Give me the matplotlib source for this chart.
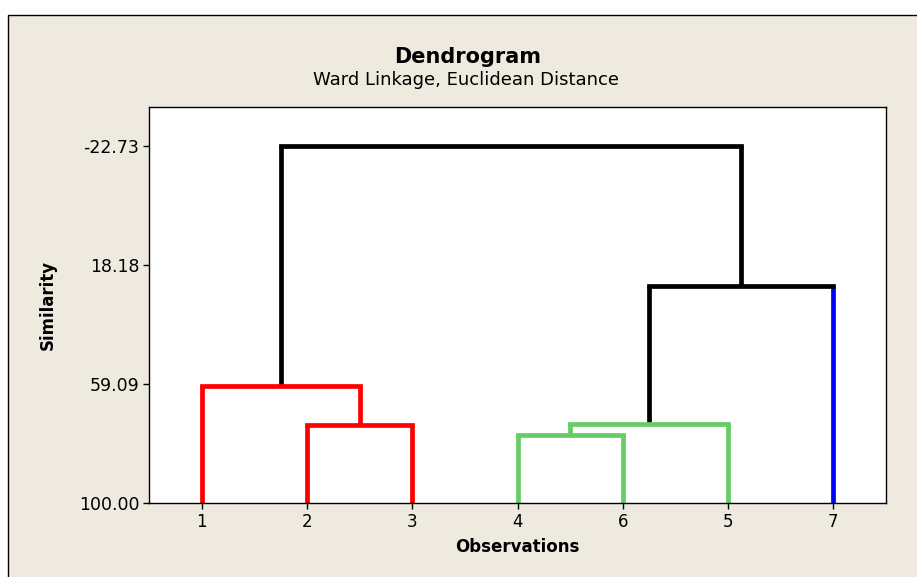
import matplotlib
matplotlib.use("Agg")
import matplotlib.pyplot as plt
from matplotlib.patches import Rectangle

# leaves in display order, with colour of each leaf's own stem
leaf_labels = ["1", "2", "3", "4", "6", "5", "7"]
leaf_colors = ["#ff0000", "#ff0000", "#ff0000", "#66cc66", "#66cc66", "#66cc66", "#0000ff"]
# merges: (left cluster, right cluster), similarity level, colour of the link
merge_pairs = [("2", "3"), ("4", "6"), ("46", "5"), ("1", "23"), ("465", "7"), ("123", "4657")]
merge_similarity = [73.2, 76.6, 72.8, 59.6, 25.4, -22.73]
merge_colors = ["#ff0000", "#66cc66", "#66cc66", "#ff0000", "black", "black"]

y_ticks = [-22.73, 18.18, 59.09, 100.00]

W, H = 917, 577
fig = plt.figure(figsize=(W / 100, H / 100), dpi=100, facecolor="white")
# beige panel with black border on left/top
fig.patches.append(Rectangle((8 / W, -0.05), 1.2, 1 - 15 / H + 0.05, transform=fig.transFigure,
                             facecolor="#eeeae0", edgecolor="black", linewidth=1.0, zorder=-5))

ax = fig.add_axes([149 / W, 1 - 503 / H, (886 - 149) / W, (503 - 107) / H])
ax.set_facecolor("white")

xpos = {lab: i + 1 for i, lab in enumerate(leaf_labels)}
ypos = {lab: 100.0 for lab in leaf_labels}
lcol = dict(zip(leaf_labels, leaf_colors))
lw = 3.4
for (a, b), h, c in zip(merge_pairs, merge_similarity, merge_colors):
    xa, xb = xpos[a], xpos[b]
    ca = lcol[a] if a in lcol else c
    cb = lcol[b] if b in lcol else c
    ax.plot([xa, xa], [ypos[a], h], color=ca, lw=lw, solid_capstyle="butt", zorder=2)
    ax.plot([xb, xb], [ypos[b], h], color=cb, lw=lw, solid_capstyle="butt", zorder=2)
    ax.plot([xa, xb], [h, h], color=c, lw=lw, solid_capstyle="projecting", zorder=3)
    new = a + b
    xpos[new] = (xa + xb) / 2
    ypos[new] = h

ax.set_xlim(0.5, 7.5)
ax.set_ylim(100, -36.2)
ax.set_xticks(range(1, len(leaf_labels) + 1))
ax.set_xticklabels(leaf_labels)
ax.set_yticks(y_ticks)
ax.set_yticklabels([f"{v:.2f}" for v in y_ticks])
ax.tick_params(axis="x", direction="out", length=4, width=1, labelsize=12, pad=3)
ax.tick_params(axis="y", direction="out", length=4, width=1, labelsize=12.5, pad=3)
for s in ax.spines.values():
    s.set_linewidth(1.0)

ax.set_xlabel("Observations", fontsize=12, fontweight="bold", labelpad=5)
ax.set_ylabel("Similarity", fontsize=12, fontweight="bold", labelpad=16)
fig.text(0.51, 1 - 57 / H, "Dendrogram", ha="center", va="center", fontsize=15, fontweight="bold")
fig.text(0.508, 1 - 80 / H, "Ward Linkage, Euclidean Distance", ha="center", va="center", fontsize=13)

fig.savefig("out.png", dpi=100)
